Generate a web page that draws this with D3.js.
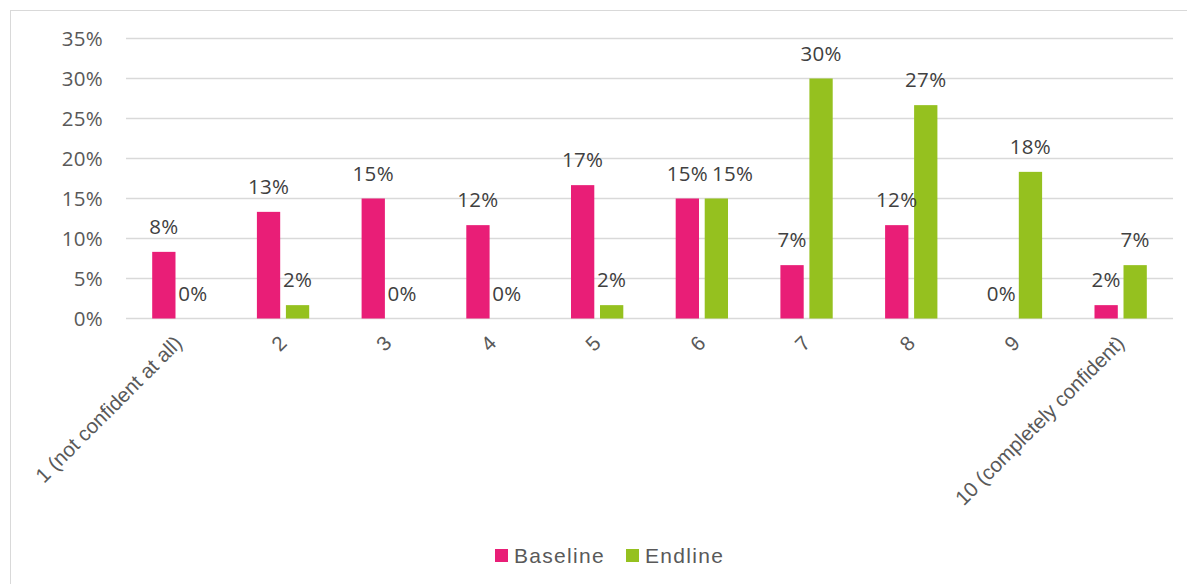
<!DOCTYPE html>
<html>
<head>
<meta charset="utf-8">
<script src="https://cdn.jsdelivr.net/npm/d3@7/dist/d3.min.js"></script>
<style>
  html, body { margin: 0; padding: 0; background: #fff; }
  svg { display: block; }
</style>
</head>
<body>
<svg id="chart" width="1187" height="584"></svg>
<script>
// Confidence rating, share of respondents
const categories = ["1 (not confident at all)", "2", "3", "4", "5", "6", "7", "8", "9", "10 (completely confident)"];
const seriesNames = ["Baseline", "Endline"];
const baseline = [0.0833, 0.1333, 0.15, 0.1167, 0.1667, 0.15, 0.0667, 0.1167, 0, 0.0167];
const endline  = [0, 0.0167, 0, 0, 0.0167, 0.15, 0.30, 0.2667, 0.1833, 0.0667];
const yTicks = [0, 0.05, 0.10, 0.15, 0.20, 0.25, 0.30, 0.35];
const colors = { Baseline: "#E91E77", Endline: "#95C11F" };

const rows = categories.map((c, i) => ({ cat: c, Baseline: baseline[i], Endline: endline[i] }));

const svg = d3.select("#chart");
const W = 1187, H = 584;
const plot = { left: 126, right: 1173, top: 38.5, bottom: 318.5 };

// chart frame
svg.append("rect")
  .attr("x", 10.5).attr("y", 10.5)
  .attr("width", W).attr("height", H)
  .attr("fill", "none").attr("stroke", "#d9d9d9").attr("stroke-width", 1);

const x0 = d3.scaleBand().domain(categories).range([plot.left, plot.right]).padding(0);
const x1 = d3.scaleBand().domain(seriesNames).range([0, x0.bandwidth()])
  .paddingInner(0.197).paddingOuter(0.903);
const y = d3.scaleLinear().domain([0, 0.35]).range([plot.bottom, plot.top]);

const numFont = "'Open Sans', 'Noto Sans', sans-serif";
const txtFont = "'Liberation Sans', Arial, sans-serif";
const pct = d3.format(".0%");

// gridlines
svg.append("g")
  .selectAll("line").data(yTicks).join("line")
  .attr("x1", plot.left).attr("x2", plot.right)
  .attr("y1", d => y(d)).attr("y2", d => y(d))
  .attr("stroke", "#d9d9d9").attr("stroke-width", 1.5);

// y axis labels
const yAxis = d3.axisLeft(y).tickValues(yTicks).tickFormat(pct).tickSize(0).tickPadding(0);
const gy = svg.append("g").attr("transform", `translate(103,0)`).call(yAxis);
gy.select(".domain").remove();
gy.selectAll("text")
  .attr("font-family", numFont).attr("font-size", 20.5).attr("letter-spacing", 0.3)
  .attr("fill", "#595959")
  .attr("dy", "0.35em");

// x axis labels, rotated
const xAxis = d3.axisBottom(x0).tickSize(0).tickPadding(0);
const gx = svg.append("g").attr("transform", `translate(0,${plot.bottom})`).call(xAxis);
gx.select(".domain").remove();
gx.selectAll(".tick text")
  .attr("font-family", txtFont).attr("font-size", 20.5).attr("fill", "#595959")
  .attr("text-anchor", "end")
  .attr("dy", null).attr("y", 0)
  .attr("transform", "translate(5,26) rotate(-45)");

// bars
const groups = svg.append("g").selectAll("g").data(rows).join("g")
  .attr("transform", d => `translate(${x0(d.cat)},0)`);

groups.selectAll("rect")
  .data(d => seriesNames.map(k => ({ key: k, value: d[k] })))
  .join("rect")
  .attr("x", d => x1(d.key))
  .attr("width", x1.bandwidth())
  .attr("y", d => y(d.value))
  .attr("height", d => y(0) - y(d.value))
  .attr("fill", d => colors[d.key]);

// value labels
groups.each(function () {
  const labels = d3.select(this).selectAll("text")
    .data(d => seriesNames.map(k => ({ key: k, value: d[k] })))
    .join("text")
    .attr("x", d => x1(d.key) + x1.bandwidth() / 2)
    .attr("y", d => y(d.value) - 18)
    .attr("text-anchor", "middle")
    .attr("font-family", numFont).attr("font-size", 20.5).attr("letter-spacing", 0.3)
    .attr("fill", "#404040")
    .text(d => pct(d.value));
  // nudge the second label right when both sit at the same height and collide
  const nodes = labels.nodes();
  const a = nodes[0].getBBox(), b = nodes[1].getBBox();
  const vOverlap = a.y < b.y + b.height && b.y < a.y + a.height;
  const gap = 4;
  if (vOverlap && b.x < a.x + a.width + gap) {
    const shift = a.x + a.width + gap - b.x;
    d3.select(nodes[1]).attr("x", +d3.select(nodes[1]).attr("x") + shift);
  }
});

// legend
const legendItems = [{ key: "Baseline", x: 495 }, { key: "Endline", x: 626 }];
const lg = svg.append("g").selectAll("g").data(legendItems).join("g")
  .attr("transform", d => `translate(${d.x},549)`);
lg.append("rect").attr("width", 13).attr("height", 13).attr("fill", d => colors[d.key]);
lg.append("text")
  .attr("x", 19).attr("y", 13.5)
  .attr("font-family", txtFont).attr("font-size", 21).attr("letter-spacing", 1.3)
  .attr("fill", "#595959")
  .text(d => d.key);
</script>
</body>
</html>
